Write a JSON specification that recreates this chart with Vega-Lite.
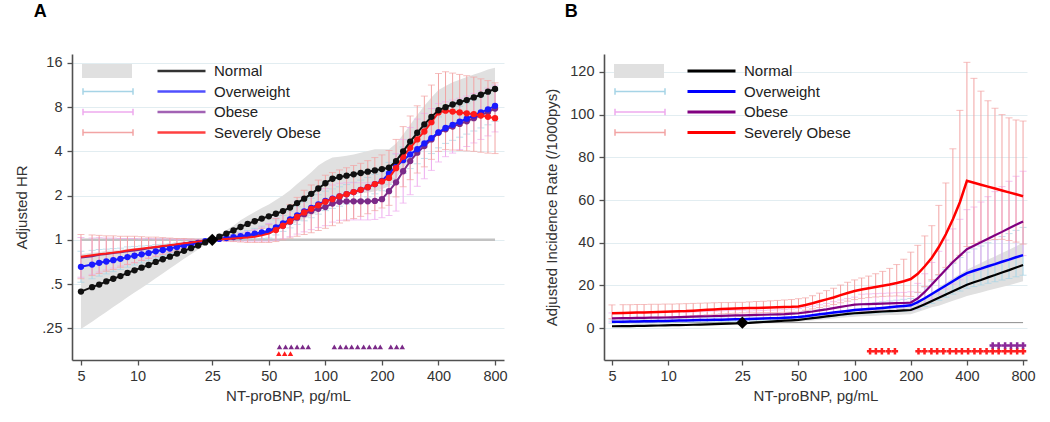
{
"$schema": "https://vega.github.io/schema/vega-lite/v6.json",
"background": "#ffffff",
"padding": {"left": 14, "right": 0, "top": 3, "bottom": 0},
"config": {
  "font": "Liberation Sans",
  "view": {"stroke": null},
  "concat": {"spacing": 36},
  "axis": {"domainColor": "#505050", "domainWidth": 1.6, "tickColor": "#505050", "tickWidth": 1.3, "tickSize": 5,
           "labelFont": "Liberation Sans", "labelFontSize": 14.5, "labelColor": "#333333",
           "titleFont": "Liberation Sans", "titleFontSize": 15, "titleFontWeight": "normal", "titleColor": "#333333",
           "gridColor": "#e2edf1", "gridWidth": 1},
  "legend": {"labelFont": "Liberation Sans", "labelFontSize": 15, "labelColor": "#222222", "clipHeight": 20, "rowPadding": 0.5, "padding": 0},
  "title": {"anchor": "start", "font": "Liberation Sans", "fontSize": 18, "fontWeight": "bold", "color": "#000000", "offset": 33}
},
"datasets": {
"A": [
{"x":5,"n":0.444,"nl":0.247,"nh":0.801,"o":0.655,"ol":0.514,"oh":0.835,"b":0.758,"bl":0.555,"bh":1.035,"s":0.768,"sl":0.543,"sh":1.087},
{"x":5.73,"n":0.476,"nl":0.277,"nh":0.818,"o":0.678,"ol":0.543,"oh":0.847,"b":0.774,"bl":0.582,"bh":1.028,"s":0.785,"sl":0.571,"sh":1.079},
{"x":6.25,"n":0.496,"nl":0.299,"nh":0.824,"o":0.697,"ol":0.566,"oh":0.859,"b":0.790,"bl":0.603,"bh":1.035,"s":0.796,"sl":0.590,"sh":1.072},
{"x":6.82,"n":0.521,"nl":0.323,"nh":0.841,"o":0.712,"ol":0.586,"oh":0.864,"b":0.801,"bl":0.624,"bh":1.028,"s":0.806,"sl":0.611,"sh":1.064},
{"x":7.43,"n":0.543,"nl":0.349,"nh":0.847,"o":0.727,"ol":0.607,"oh":0.871,"b":0.812,"bl":0.642,"bh":1.028,"s":0.818,"sl":0.628,"sh":1.064},
{"x":8.11,"n":0.566,"nl":0.376,"nh":0.852,"o":0.742,"ol":0.628,"oh":0.877,"b":0.824,"bl":0.665,"bh":1.021,"s":0.830,"sl":0.651,"sh":1.057},
{"x":8.84,"n":0.595,"nl":0.406,"nh":0.871,"o":0.763,"ol":0.651,"oh":0.895,"b":0.835,"bl":0.683,"bh":1.021,"s":0.847,"sl":0.678,"sh":1.057},
{"x":9.64,"n":0.620,"nl":0.438,"nh":0.877,"o":0.779,"ol":0.674,"oh":0.901,"b":0.847,"bl":0.702,"bh":1.021,"s":0.859,"sl":0.697,"sh":1.057},
{"x":10.51,"n":0.646,"nl":0.470,"nh":0.889,"o":0.796,"ol":0.697,"oh":0.908,"b":0.859,"bl":0.727,"bh":1.014,"s":0.871,"sl":0.722,"sh":1.050},
{"x":11.46,"n":0.674,"nl":0.507,"nh":0.895,"o":0.812,"ol":0.722,"oh":0.914,"b":0.877,"bl":0.753,"bh":1.021,"s":0.883,"sl":0.747,"sh":1.043},
{"x":12.5,"n":0.707,"nl":0.547,"nh":0.914,"o":0.835,"ol":0.753,"oh":0.927,"b":0.889,"bl":0.779,"bh":1.014,"s":0.895,"sl":0.768,"sh":1.043},
{"x":13.63,"n":0.737,"nl":0.590,"nh":0.920,"o":0.852,"ol":0.779,"oh":0.933,"b":0.901,"bl":0.801,"bh":1.014,"s":0.908,"sl":0.796,"sh":1.035},
{"x":14.87,"n":0.768,"nl":0.637,"nh":0.927,"o":0.871,"ol":0.806,"oh":0.940,"b":0.914,"bl":0.824,"bh":1.014,"s":0.920,"sl":0.824,"sh":1.028},
{"x":16.21,"n":0.806,"nl":0.688,"nh":0.946,"o":0.895,"ol":0.841,"oh":0.953,"b":0.927,"bl":0.852,"bh":1.007,"s":0.933,"sl":0.852,"sh":1.021},
{"x":17.68,"n":0.841,"nl":0.742,"nh":0.953,"o":0.914,"ol":0.864,"oh":0.966,"b":0.940,"bl":0.877,"bh":1.007,"s":0.946,"sl":0.877,"sh":1.021},
{"x":19.28,"n":0.877,"nl":0.796,"nh":0.966,"o":0.933,"ol":0.895,"oh":0.973,"b":0.959,"bl":0.914,"bh":1.007,"s":0.959,"sl":0.908,"sh":1.014},
{"x":21.02,"n":0.914,"nl":0.859,"nh":0.973,"o":0.953,"ol":0.927,"oh":0.979,"b":0.973,"bl":0.940,"bh":1.007,"s":0.973,"sl":0.940,"sh":1.007},
{"x":22.93,"n":0.960,"nl":0.927,"nh":0.993,"o":0.979,"ol":0.966,"oh":0.993,"b":0.986,"bl":0.973,"bh":1.000,"s":0.986,"sl":0.966,"sh":1.007},
{"x":25,"n":1,"nl":1,"nh":1,"o":1,"ol":1,"oh":1,"b":1,"bl":1,"bh":1,"s":1,"sl":1,"sh":1},
{"x":27.26,"n":1.050,"nl":1.021,"nh":1.079,"o":1.014,"ol":1.000,"oh":1.028,"b":1.007,"bl":0.986,"bh":1.028,"s":1.007,"sl":0.986,"sh":1.028},
{"x":29.73,"n":1.102,"nl":1.043,"nh":1.165,"o":1.028,"ol":1.000,"oh":1.057,"b":1.014,"bl":0.979,"bh":1.050,"s":1.014,"sl":0.979,"sh":1.050},
{"x":32.42,"n":1.157,"nl":1.072,"nh":1.248,"o":1.043,"ol":1.000,"oh":1.087,"b":1.028,"bl":0.979,"bh":1.079,"s":1.021,"sl":0.973,"sh":1.072},
{"x":35.36,"n":1.223,"nl":1.102,"nh":1.357,"o":1.057,"ol":1.000,"oh":1.117,"b":1.043,"bl":0.979,"bh":1.110,"s":1.028,"sl":0.966,"sh":1.094},
{"x":38.56,"n":1.283,"nl":1.133,"nh":1.454,"o":1.079,"ol":1.007,"oh":1.157,"b":1.057,"bl":0.979,"bh":1.141,"s":1.035,"sl":0.959,"sh":1.117},
{"x":42.04,"n":1.338,"nl":1.157,"nh":1.548,"o":1.102,"ol":1.014,"oh":1.197,"b":1.072,"bl":0.979,"bh":1.173,"s":1.050,"sl":0.959,"sh":1.149},
{"x":45.85,"n":1.395,"nl":1.181,"nh":1.647,"o":1.125,"ol":1.021,"oh":1.240,"b":1.094,"bl":0.979,"bh":1.223,"s":1.072,"sl":0.959,"sh":1.197},
{"x":50,"n":1.444,"nl":1.197,"nh":1.741,"o":1.149,"ol":1.028,"oh":1.283,"b":1.125,"bl":0.979,"bh":1.292,"s":1.102,"sl":0.959,"sh":1.266},
{"x":54.53,"n":1.505,"nl":1.214,"nh":1.866,"o":1.214,"ol":1.079,"oh":1.366,"b":1.181,"bl":0.993,"bh":1.404,"s":1.165,"sl":0.973,"sh":1.395},
{"x":59.46,"n":1.569,"nl":1.231,"nh":2.000,"o":1.292,"ol":1.141,"oh":1.464,"b":1.248,"bl":1.014,"bh":1.537,"s":1.248,"sl":1.000,"sh":1.558},
{"x":64.84,"n":1.659,"nl":1.266,"nh":2.173,"o":1.376,"ol":1.206,"oh":1.569,"b":1.329,"bl":1.050,"bh":1.682,"s":1.338,"sl":1.028,"sh":1.741},
{"x":70.71,"n":1.778,"nl":1.320,"nh":2.395,"o":1.464,"ol":1.274,"oh":1.682,"b":1.414,"bl":1.094,"bh":1.828,"s":1.434,"sl":1.057,"sh":1.945},
{"x":77.11,"n":1.905,"nl":1.385,"nh":2.621,"o":1.558,"ol":1.347,"oh":1.803,"b":1.495,"bl":1.133,"bh":1.972,"s":1.537,"sl":1.087,"sh":2.173},
{"x":84.09,"n":2.056,"nl":1.464,"nh":2.888,"o":1.647,"ol":1.414,"oh":1.919,"b":1.569,"bl":1.173,"bh":2.099,"s":1.625,"sl":1.117,"sh":2.362},
{"x":91.7,"n":2.235,"nl":1.558,"nh":3.204,"o":1.741,"ol":1.495,"oh":2.028,"b":1.625,"bl":1.214,"bh":2.173,"s":1.717,"sl":1.157,"sh":2.549},
{"x":100,"n":2.428,"nl":1.717,"nh":3.434,"o":1.840,"ol":1.580,"oh":2.144,"b":1.670,"bl":1.248,"bh":2.235,"s":1.815,"sl":1.197,"sh":2.751},
{"x":109.05,"n":2.603,"nl":1.866,"nh":3.630,"o":1.905,"ol":1.636,"oh":2.219,"b":1.766,"bl":1.320,"bh":2.362,"s":1.892,"sl":1.248,"sh":2.868},
{"x":118.92,"n":2.676,"nl":1.945,"nh":3.681,"o":1.972,"ol":1.693,"oh":2.297,"b":1.815,"bl":1.357,"bh":2.428,"s":1.972,"sl":1.301,"sh":2.990},
{"x":129.68,"n":2.732,"nl":2.000,"nh":3.732,"o":2.042,"ol":1.753,"oh":2.378,"b":1.828,"bl":1.366,"bh":2.445,"s":2.042,"sl":1.347,"sh":3.095},
{"x":141.42,"n":2.790,"nl":2.042,"nh":3.811,"o":2.114,"ol":1.815,"oh":2.462,"b":1.828,"bl":1.366,"bh":2.445,"s":2.114,"sl":1.395,"sh":3.204},
{"x":154.22,"n":2.848,"nl":2.071,"nh":3.918,"o":2.189,"ol":1.879,"oh":2.549,"b":1.828,"bl":1.366,"bh":2.445,"s":2.189,"sl":1.444,"sh":3.317},
{"x":168.18,"n":2.908,"nl":2.099,"nh":4.028,"o":2.282,"ol":1.959,"oh":2.657,"b":1.828,"bl":1.366,"bh":2.445,"s":2.282,"sl":1.505,"sh":3.458},
{"x":183.4,"n":2.969,"nl":2.129,"nh":4.141,"o":2.395,"ol":2.056,"oh":2.790,"b":1.840,"bl":1.376,"bh":2.462,"s":2.395,"sl":1.580,"sh":3.630},
{"x":200,"n":3.031,"nl":2.219,"nh":4.141,"o":2.514,"ol":2.159,"oh":2.928,"b":1.892,"bl":1.414,"bh":2.532,"s":2.497,"sl":1.647,"sh":3.784},
{"x":218.1,"n":3.095,"nl":2.313,"nh":4.141,"o":2.828,"ol":2.378,"oh":3.364,"b":2.144,"bl":1.464,"bh":3.138,"s":2.639,"sl":1.717,"sh":4.056},
{"x":237.8,"n":3.434,"nl":2.603,"nh":4.532,"o":3.160,"ol":2.603,"oh":3.837,"b":2.462,"bl":1.569,"bh":3.864,"s":3.074,"sl":1.959,"sh":4.823},
{"x":259.4,"n":4.000,"nl":3.074,"nh":5.205,"o":3.482,"ol":2.828,"oh":4.287,"b":2.928,"bl":1.778,"bh":4.823,"s":3.681,"sl":2.297,"sh":5.897},
{"x":282.8,"n":4.660,"nl":3.580,"nh":6.063,"o":3.811,"ol":3.053,"oh":4.757,"b":3.434,"bl":2.028,"bh":5.816,"s":4.228,"sl":2.567,"sh":6.964},
{"x":308.4,"n":5.352,"nl":4.056,"nh":7.062,"o":4.141,"ol":3.294,"oh":5.205,"b":3.918,"bl":2.313,"bh":6.635,"s":4.823,"sl":2.848,"sh":8.168},
{"x":336.4,"n":6.105,"nl":4.563,"nh":8.168,"o":4.532,"ol":3.580,"oh":5.736,"b":4.347,"bl":2.603,"bh":7.261,"s":5.464,"sl":3.138,"sh":9.514},
{"x":366.8,"n":6.869,"nl":5.063,"nh":9.318,"o":4.925,"ol":3.864,"oh":6.276,"b":4.823,"bl":2.969,"bh":7.835,"s":6.320,"sl":3.531,"sh":11.31},
{"x":400,"n":7.621,"nl":5.541,"nh":10.48,"o":5.389,"ol":4.228,"oh":6.869,"b":5.352,"bl":3.387,"bh":8.456,"s":7.362,"sl":4.000,"sh":13.55},
{"x":436.2,"n":8.000,"nl":5.736,"nh":11.16,"o":5.776,"ol":4.532,"oh":7.362,"b":5.657,"bl":3.681,"bh":8.694,"s":7.568,"sl":4.112,"sh":13.93},
{"x":475.7,"n":8.340,"nl":5.897,"nh":11.80,"o":6.063,"ol":4.757,"oh":7.727,"b":5.897,"bl":3.891,"bh":8.938,"s":7.464,"sl":4.084,"sh":13.64},
{"x":518.7,"n":8.634,"nl":6.063,"nh":12.30,"o":6.364,"ol":4.993,"oh":8.111,"b":6.148,"bl":4.112,"bh":9.190,"s":7.362,"sl":4.056,"sh":13.36},
{"x":565.7,"n":8.938,"nl":6.233,"nh":12.82,"o":6.681,"ol":5.242,"oh":8.514,"b":6.408,"bl":4.317,"bh":9.514,"s":7.261,"sl":4.028,"sh":13.09},
{"x":616.9,"n":9.318,"nl":6.498,"nh":13.36,"o":7.013,"ol":5.502,"oh":8.938,"b":6.727,"bl":4.563,"bh":9.918,"s":7.161,"sl":4.000,"sh":12.82},
{"x":672.7,"n":9.714,"nl":6.821,"nh":13.83,"o":7.362,"ol":5.776,"oh":9.383,"b":7.062,"bl":4.823,"bh":10.34,"s":7.013,"sl":3.945,"sh":12.47},
{"x":733.6,"n":10.20,"nl":7.211,"nh":14.42,"o":7.727,"ol":6.063,"oh":9.849,"b":7.412,"bl":5.098,"bh":10.78,"s":6.869,"sl":3.891,"sh":12.13},
{"x":800,"n":10.63,"nl":7.621,"nh":14.83,"o":8.168,"ol":6.408,"oh":10.41,"b":7.835,"bl":5.426,"bh":11.31,"s":6.727,"sl":3.864,"sh":11.71}
],
"B": [
{"x":5,"n":0.9,"nl":0.69,"nh":1.17,"o":3.0,"ol":2.31,"oh":3.9,"b":4.6,"bl":2.97,"bh":7.13,"s":7.0,"sl":4.5,"sh":10.9},
{"x":5.73,"n":0.95,"nl":0.73,"nh":1.24,"o":3.05,"ol":2.35,"oh":3.97,"b":4.7,"bl":3.03,"bh":7.29,"s":7.1,"sl":4.58,"sh":11.0},
{"x":6.25,"n":1.0,"nl":0.77,"nh":1.3,"o":3.1,"ol":2.38,"oh":4.03,"b":4.7,"bl":3.03,"bh":7.29,"s":7.2,"sl":4.71,"sh":11.0},
{"x":6.82,"n":1.05,"nl":0.81,"nh":1.37,"o":3.15,"ol":2.42,"oh":4.1,"b":4.8,"bl":3.1,"bh":7.44,"s":7.3,"sl":4.8,"sh":11.1},
{"x":7.43,"n":1.1,"nl":0.85,"nh":1.43,"o":3.2,"ol":2.46,"oh":4.16,"b":4.8,"bl":3.1,"bh":7.44,"s":7.4,"sl":4.93,"sh":11.1},
{"x":8.11,"n":1.2,"nl":0.92,"nh":1.56,"o":3.3,"ol":2.54,"oh":4.29,"b":4.9,"bl":3.16,"bh":7.6,"s":7.5,"sl":5.02,"sh":11.2},
{"x":8.84,"n":1.25,"nl":0.96,"nh":1.63,"o":3.35,"ol":2.58,"oh":4.36,"b":4.9,"bl":3.16,"bh":7.6,"s":7.6,"sl":5.16,"sh":11.2},
{"x":9.64,"n":1.3,"nl":1.0,"nh":1.69,"o":3.4,"ol":2.62,"oh":4.42,"b":5.0,"bl":3.23,"bh":7.75,"s":7.7,"sl":5.25,"sh":11.3},
{"x":10.51,"n":1.4,"nl":1.08,"nh":1.82,"o":3.5,"ol":2.69,"oh":4.55,"b":5.1,"bl":3.29,"bh":7.91,"s":7.8,"sl":5.38,"sh":11.3},
{"x":11.46,"n":1.45,"nl":1.12,"nh":1.89,"o":3.55,"ol":2.73,"oh":4.62,"b":5.2,"bl":3.35,"bh":8.06,"s":7.9,"sl":5.47,"sh":11.4},
{"x":12.5,"n":1.5,"nl":1.15,"nh":1.95,"o":3.6,"ol":2.77,"oh":4.68,"b":5.3,"bl":3.79,"bh":7.42,"s":8.0,"sl":5.57,"sh":11.5},
{"x":13.63,"n":1.6,"nl":1.23,"nh":2.08,"o":3.7,"ol":2.85,"oh":4.81,"b":5.4,"bl":3.86,"bh":7.56,"s":8.2,"sl":5.8,"sh":11.6},
{"x":14.87,"n":1.7,"nl":1.31,"nh":2.21,"o":3.8,"ol":2.92,"oh":4.94,"b":5.5,"bl":3.93,"bh":7.7,"s":8.4,"sl":6.03,"sh":11.7},
{"x":16.21,"n":1.8,"nl":1.38,"nh":2.34,"o":3.85,"ol":2.96,"oh":5.0,"b":5.6,"bl":4.0,"bh":7.84,"s":8.6,"sl":6.27,"sh":11.8},
{"x":17.68,"n":1.9,"nl":1.46,"nh":2.47,"o":3.9,"ol":3.0,"oh":5.07,"b":5.7,"bl":4.07,"bh":7.98,"s":8.8,"sl":6.51,"sh":11.9},
{"x":19.28,"n":2.0,"nl":1.54,"nh":2.6,"o":4.0,"ol":3.08,"oh":5.2,"b":5.8,"bl":4.14,"bh":8.12,"s":9.0,"sl":6.75,"sh":12.0},
{"x":21.02,"n":2.1,"nl":1.62,"nh":2.73,"o":4.1,"ol":3.15,"oh":5.33,"b":5.9,"bl":4.21,"bh":8.26,"s":9.1,"sl":6.9,"sh":12.0},
{"x":22.93,"n":2.2,"nl":1.69,"nh":2.86,"o":4.15,"ol":3.19,"oh":5.4,"b":6.0,"bl":4.29,"bh":8.4,"s":9.2,"sl":7.0,"sh":12.1},
{"x":25,"n":2.4,"nl":1.85,"nh":3.12,"o":4.2,"ol":3.23,"oh":5.46,"b":6.0,"bl":4.29,"bh":8.4,"s":9.3,"sl":7.15,"sh":12.1},
{"x":27.26,"n":2.5,"nl":1.92,"nh":3.25,"o":4.3,"ol":3.31,"oh":5.59,"b":6.1,"bl":4.62,"bh":8.05,"s":9.4,"sl":7.18,"sh":12.3},
{"x":29.73,"n":2.7,"nl":2.08,"nh":3.51,"o":4.4,"ol":3.38,"oh":5.72,"b":6.2,"bl":4.7,"bh":8.18,"s":9.5,"sl":7.22,"sh":12.5},
{"x":32.42,"n":2.9,"nl":2.23,"nh":3.77,"o":4.5,"ol":3.46,"oh":5.85,"b":6.3,"bl":4.78,"bh":8.32,"s":9.6,"sl":7.31,"sh":12.6},
{"x":35.36,"n":3.1,"nl":2.38,"nh":4.03,"o":4.6,"ol":3.54,"oh":5.98,"b":6.4,"bl":4.85,"bh":8.45,"s":9.7,"sl":7.35,"sh":12.8},
{"x":38.56,"n":3.3,"nl":2.54,"nh":4.29,"o":4.7,"ol":3.62,"oh":6.11,"b":6.5,"bl":4.93,"bh":8.58,"s":9.8,"sl":7.39,"sh":13.0},
{"x":42.04,"n":3.5,"nl":2.69,"nh":4.55,"o":4.85,"ol":3.73,"oh":6.31,"b":6.6,"bl":5.0,"bh":8.71,"s":9.9,"sl":7.43,"sh":13.2},
{"x":45.85,"n":3.7,"nl":2.85,"nh":4.81,"o":5.0,"ol":3.85,"oh":6.5,"b":6.8,"bl":5.15,"bh":8.98,"s":10.0,"sl":7.46,"sh":13.4},
{"x":50,"n":3.9,"nl":3.0,"nh":5.07,"o":5.2,"ol":4.0,"oh":6.76,"b":7.0,"bl":5.31,"bh":9.24,"s":10.2,"sl":7.54,"sh":13.8},
{"x":54.53,"n":4.3,"nl":3.31,"nh":5.59,"o":5.6,"ol":4.31,"oh":7.28,"b":7.4,"bl":5.61,"bh":9.77,"s":10.9,"sl":8.37,"sh":14.2},
{"x":59.46,"n":4.7,"nl":3.62,"nh":6.11,"o":6.1,"ol":4.69,"oh":7.93,"b":7.8,"bl":5.91,"bh":10.3,"s":11.7,"sl":9.01,"sh":15.2},
{"x":64.84,"n":5.1,"nl":3.92,"nh":6.63,"o":6.5,"ol":5.0,"oh":8.45,"b":8.3,"bl":6.29,"bh":10.96,"s":12.6,"sl":9.68,"sh":16.4},
{"x":70.71,"n":5.5,"nl":4.23,"nh":7.15,"o":6.9,"ol":5.31,"oh":8.97,"b":8.8,"bl":6.67,"bh":11.62,"s":13.5,"sl":10.36,"sh":17.6},
{"x":77.11,"n":5.9,"nl":4.54,"nh":7.67,"o":7.3,"ol":5.62,"oh":9.49,"b":9.4,"bl":7.12,"bh":12.41,"s":14.4,"sl":11.09,"sh":18.7},
{"x":84.09,"n":6.3,"nl":4.85,"nh":8.19,"o":7.7,"ol":5.92,"oh":10.01,"b":10.0,"bl":7.58,"bh":13.2,"s":15.5,"sl":11.89,"sh":20.2},
{"x":91.7,"n":6.7,"nl":5.15,"nh":8.71,"o":8.1,"ol":6.23,"oh":10.53,"b":10.5,"bl":7.95,"bh":13.86,"s":16.5,"sl":12.66,"sh":21.5},
{"x":100,"n":7.0,"nl":5.38,"nh":9.1,"o":8.5,"ol":6.54,"oh":11.05,"b":11.0,"bl":8.33,"bh":14.52,"s":17.4,"sl":13.4,"sh":22.6},
{"x":109.05,"n":7.2,"nl":5.54,"nh":9.36,"o":8.8,"ol":6.77,"oh":11.44,"b":11.2,"bl":7.89,"bh":15.9,"s":18.1,"sl":13.94,"sh":23.5},
{"x":118.92,"n":7.4,"nl":5.69,"nh":9.62,"o":9.0,"ol":6.92,"oh":11.7,"b":11.3,"bl":7.96,"bh":16.05,"s":18.7,"sl":14.33,"sh":24.4},
{"x":129.68,"n":7.6,"nl":5.85,"nh":9.88,"o":9.2,"ol":7.08,"oh":11.96,"b":11.4,"bl":8.03,"bh":16.19,"s":19.3,"sl":14.61,"sh":25.5},
{"x":141.42,"n":7.8,"nl":6.0,"nh":10.14,"o":9.5,"ol":7.31,"oh":12.35,"b":11.5,"bl":8.1,"bh":16.33,"s":19.9,"sl":14.89,"sh":26.6},
{"x":154.22,"n":8.0,"nl":6.15,"nh":10.4,"o":9.8,"ol":7.54,"oh":12.74,"b":11.6,"bl":8.17,"bh":16.47,"s":20.5,"sl":15.01,"sh":28.0},
{"x":168.18,"n":8.1,"nl":6.23,"nh":10.53,"o":10.1,"ol":7.77,"oh":13.13,"b":11.7,"bl":8.24,"bh":16.61,"s":21.2,"sl":15.08,"sh":29.8},
{"x":183.4,"n":8.3,"nl":6.38,"nh":10.79,"o":10.4,"ol":8.0,"oh":13.52,"b":11.8,"bl":8.31,"bh":16.76,"s":22.0,"sl":14.98,"sh":32.3},
{"x":200,"n":8.5,"nl":6.54,"nh":11.05,"o":10.7,"ol":8.23,"oh":13.91,"b":12.0,"bl":8.45,"bh":17.04,"s":23.0,"sl":14.86,"sh":35.6},
{"x":218.1,"n":9.8,"nl":7.54,"nh":12.74,"o":12.2,"ol":8.84,"oh":16.84,"b":14.0,"bl":9.33,"bh":21.0,"s":25.5,"sl":16.76,"sh":38.8},
{"x":237.8,"n":11.2,"nl":8.62,"nh":14.56,"o":14.0,"ol":10.15,"oh":19.32,"b":17.0,"bl":11.33,"bh":25.5,"s":29.0,"sl":19.47,"sh":43.2},
{"x":259.4,"n":12.7,"nl":9.77,"nh":16.51,"o":16.0,"ol":11.6,"oh":22.08,"b":20.5,"bl":13.67,"bh":30.75,"s":33.0,"sl":22.69,"sh":48.0},
{"x":282.8,"n":14.2,"nl":10.52,"nh":19.17,"o":18.0,"ol":13.05,"oh":24.84,"b":24.0,"bl":16.0,"bh":36.0,"s":38.0,"sl":25.11,"sh":57.5},
{"x":308.4,"n":15.8,"nl":11.7,"nh":21.33,"o":20.0,"ol":14.5,"oh":27.6,"b":27.5,"bl":18.33,"bh":41.25,"s":44.0,"sl":28.47,"sh":68.0},
{"x":336.4,"n":17.3,"nl":12.81,"nh":23.36,"o":22.0,"ol":15.95,"oh":30.36,"b":31.0,"bl":20.67,"bh":46.5,"s":51.0,"sl":30.96,"sh":84.0},
{"x":366.8,"n":18.8,"nl":13.93,"nh":25.38,"o":24.0,"ol":17.4,"oh":33.12,"b":34.0,"bl":22.67,"bh":51.0,"s":59.0,"sl":34.13,"sh":102.0},
{"x":400,"n":20.3,"nl":15.04,"nh":27.41,"o":25.8,"ol":18.7,"oh":35.6,"b":37.0,"bl":24.67,"bh":55.5,"s":69.0,"sl":38.24,"sh":124.5},
{"x":436.2,"n":21.5,"nl":15.93,"nh":29.03,"o":26.9,"ol":19.5,"oh":37.12,"b":38.6,"bl":26.26,"bh":56.74,"s":68.1,"sl":39.64,"sh":117.0},
{"x":475.7,"n":22.6,"nl":16.74,"nh":30.51,"o":27.9,"ol":20.23,"oh":38.5,"b":40.2,"bl":27.35,"bh":59.09,"s":67.2,"sl":40.68,"sh":111.0},
{"x":518.7,"n":23.8,"nl":17.63,"nh":32.13,"o":29.0,"ol":21.03,"oh":40.02,"b":41.9,"bl":28.5,"bh":61.59,"s":66.3,"sl":41.27,"sh":106.5},
{"x":565.7,"n":24.9,"nl":18.44,"nh":33.62,"o":30.0,"ol":21.75,"oh":41.4,"b":43.5,"bl":29.59,"bh":63.95,"s":65.4,"sl":41.53,"sh":103.0},
{"x":616.9,"n":26.1,"nl":19.33,"nh":35.24,"o":31.1,"ol":22.55,"oh":42.92,"b":45.1,"bl":30.68,"bh":66.3,"s":64.5,"sl":41.6,"sh":100.0},
{"x":672.7,"n":27.2,"nl":20.15,"nh":36.72,"o":32.1,"ol":23.27,"oh":44.3,"b":46.8,"bl":31.84,"bh":68.8,"s":63.6,"sl":41.07,"sh":98.5},
{"x":733.6,"n":28.4,"nl":21.04,"nh":38.34,"o":33.2,"ol":24.07,"oh":45.82,"b":48.4,"bl":32.93,"bh":71.15,"s":62.7,"sl":40.32,"sh":97.5},
{"x":800,"n":29.6,"nl":21.93,"nh":39.96,"o":34.2,"ol":24.8,"oh":47.2,"b":50.0,"bl":34.01,"bh":73.5,"s":61.8,"sl":39.37,"sh":97.0}
],
"sigA": [
{"x":57,"g":"Obese"},{"x":61.4,"g":"Obese"},{"x":65.8,"g":"Obese"},{"x":70.7,"g":"Obese"},{"x":75.7,"g":"Obese"},{"x":81.1,"g":"Obese"},
{"x":111.6,"g":"Obese"},{"x":120.1,"g":"Obese"},{"x":128.8,"g":"Obese"},{"x":138,"g":"Obese"},{"x":148.5,"g":"Obese"},{"x":159.8,"g":"Obese"},{"x":171.3,"g":"Obese"},{"x":184.3,"g":"Obese"},{"x":196,"g":"Obese"},
{"x":223,"g":"Obese"},{"x":239.5,"g":"Obese"},{"x":256.6,"g":"Obese"},
{"x":56.5,"g":"Severely Obese"},{"x":60.7,"g":"Severely Obese"},{"x":65.2,"g":"Severely Obese"}
],
"sigB": [
{"x":121,"g":"Severely Obese"},{"x":130,"g":"Severely Obese"},{"x":140,"g":"Severely Obese"},{"x":152,"g":"Severely Obese"},{"x":164.5,"g":"Severely Obese"},
{"x":220,"g":"Severely Obese"},{"x":237,"g":"Severely Obese"},{"x":258,"g":"Severely Obese"},{"x":277,"g":"Severely Obese"},{"x":299,"g":"Severely Obese"},{"x":324,"g":"Severely Obese"},{"x":350,"g":"Severely Obese"},{"x":376,"g":"Severely Obese"},{"x":406,"g":"Severely Obese"},{"x":439,"g":"Severely Obese"},{"x":472,"g":"Severely Obese"},{"x":510,"g":"Severely Obese"},{"x":550,"g":"Severely Obese"},{"x":592,"g":"Severely Obese"},{"x":641,"g":"Severely Obese"},{"x":689,"g":"Severely Obese"},{"x":744,"g":"Severely Obese"},{"x":800,"g":"Severely Obese"},
{"x":550,"g":"Obese"},{"x":592,"g":"Obese"},{"x":641,"g":"Obese"},{"x":689,"g":"Obese"},{"x":744,"g":"Obese"},{"x":800,"g":"Obese"}
]
},
"resolve": {"scale": {"color": "independent", "fill": "independent", "stroke": "independent"}, "legend": {"color": "independent", "fill": "independent", "stroke": "independent"}},
"hconcat": [
{
  "width": 432, "height": 306,
  "title": {"text": "A", "dx": 19},
  "data": {"name": "A"},
  "layer": [
    {"mark": {"type": "area", "color": "#e0e0e0"},
     "encoding": {
       "x": {"field": "x", "type": "quantitative", "scale": {"type": "log", "domain": [4.48, 893], "nice": false},
             "axis": {"values": [5,10,25,50,100,200,400,800], "format": "d", "title": "NT-proBNP, pg/mL", "grid": false, "labelFlush": false, "labelPadding": 4, "titlePadding": 6}},
       "y": {"field": "nl", "type": "quantitative", "title": "Adjusted HR", "scale": {"type": "log", "base": 2, "domain": [0.152, 18.4], "nice": false},
             "axis": {"values": [0.25,0.5,1,2,4,8,16], "labelExpr": "datum.value == 0.5 ? '.5' : (datum.value == 0.25 ? '.25' : format(datum.value, 'd'))", "grid": true, "labelPadding": 5, "titlePadding": 12}},
       "y2": {"field": "nh"}}},
    {"data": {"values": [{}]}, "mark": {"type": "rule", "color": "#c2c2c2", "strokeWidth": 2.5},
     "encoding": {"x": {"datum": 5}, "x2": {"datum": 800}, "y": {"datum": 1, "title": "Adjusted HR"}}},
    {"mark": {"type": "errorbar", "color": "#a6d4e6", "thickness": 1, "ticks": {"size": 7}},
     "encoding": {"x": {"field": "x", "type": "quantitative"}, "y": {"field": "ol", "type": "quantitative", "title": "Adjusted HR"}, "y2": {"field": "oh"}}},
    {"mark": {"type": "errorbar", "color": "#eeaaee", "thickness": 1, "ticks": {"size": 7}},
     "encoding": {"x": {"field": "x", "type": "quantitative"}, "y": {"field": "bl", "type": "quantitative", "title": "Adjusted HR"}, "y2": {"field": "bh"}}},
    {"mark": {"type": "errorbar", "color": "#f2a4a4", "thickness": 1, "ticks": {"size": 7}},
     "encoding": {"x": {"field": "x", "type": "quantitative"}, "y": {"field": "sl", "type": "quantitative", "title": "Adjusted HR"}, "y2": {"field": "sh"}}},
    {"mark": {"type": "line", "color": "#7b2a88", "strokeWidth": 2},
     "encoding": {"x": {"field": "x", "type": "quantitative"}, "y": {"field": "b", "type": "quantitative", "title": "Adjusted HR"}}},
    {"transform": [{"filter": {"field": "x", "gte": 54}}],
     "mark": {"type": "point", "filled": true, "color": "#7b2a88", "size": 40, "opacity": 1},
     "encoding": {"x": {"field": "x", "type": "quantitative"}, "y": {"field": "b", "type": "quantitative", "title": "Adjusted HR"}}},
    {"mark": {"type": "line", "color": "#1a1aff", "strokeWidth": 2},
     "encoding": {"x": {"field": "x", "type": "quantitative"}, "y": {"field": "o", "type": "quantitative", "title": "Adjusted HR"}}},
    {"mark": {"type": "point", "filled": true, "color": "#1a1aff", "size": 40, "opacity": 1},
     "encoding": {"x": {"field": "x", "type": "quantitative"}, "y": {"field": "o", "type": "quantitative", "title": "Adjusted HR"}}},
    {"mark": {"type": "line", "color": "#ff1a1a", "strokeWidth": 2},
     "encoding": {"x": {"field": "x", "type": "quantitative"}, "y": {"field": "s", "type": "quantitative", "title": "Adjusted HR"}}},
    {"transform": [{"filter": {"field": "x", "gte": 54}}],
     "mark": {"type": "point", "filled": true, "color": "#ff1a1a", "size": 40, "opacity": 1},
     "encoding": {"x": {"field": "x", "type": "quantitative"}, "y": {"field": "s", "type": "quantitative", "title": "Adjusted HR"}}},
    {"mark": {"type": "line", "color": "#111111", "strokeWidth": 2},
     "encoding": {"x": {"field": "x", "type": "quantitative"}, "y": {"field": "n", "type": "quantitative", "title": "Adjusted HR"}}},
    {"mark": {"type": "point", "filled": true, "color": "#111111", "size": 40, "opacity": 1},
     "encoding": {"x": {"field": "x", "type": "quantitative"}, "y": {"field": "n", "type": "quantitative", "title": "Adjusted HR"}}},
    {"data": {"values": [{}]}, "mark": {"type": "point", "shape": "diamond", "filled": true, "color": "#000000", "size": 150, "opacity": 1},
     "encoding": {"x": {"datum": 25}, "y": {"datum": 1, "title": "Adjusted HR"}}},
    {"data": {"name": "sigA"}, "transform": [{"filter": "datum.g == 'Obese'"}],
     "mark": {"type": "point", "shape": "triangle-up", "filled": true, "color": "#7b2a88", "size": 30, "opacity": 1},
     "encoding": {"x": {"field": "x", "type": "quantitative"}, "y": {"datum": 0.187, "title": "Adjusted HR"}}},
    {"data": {"name": "sigA"}, "transform": [{"filter": "datum.g == 'Severely Obese'"}],
     "mark": {"type": "point", "shape": "triangle-up", "filled": true, "color": "#ff1a1a", "size": 30, "opacity": 1},
     "encoding": {"x": {"field": "x", "type": "quantitative"}, "y": {"datum": 0.168, "title": "Adjusted HR"}}},
    {"data": {"values": []}, "mark": {"type": "point", "filled": true},
     "encoding": {"fill": {"field": "ci", "type": "nominal",
        "scale": {"domain": ["Normal CI"], "range": ["#e0e0e0"]},
        "legend": {"orient": "none", "legendX": 10, "legendY": 7, "title": null, "labelExpr": "''", "labelOffset": 0,
                   "symbolType": "M-1,-0.28H1V0.28H-1Z", "symbolSize": 2500, "symbolStrokeWidth": 0, "symbolOpacity": 1}}}},
    {"data": {"values": []}, "mark": {"type": "point", "filled": false},
     "encoding": {"stroke": {"field": "ci2", "type": "nominal",
        "scale": {"domain": ["Overweight CI","Obese CI","Severely Obese CI"], "range": ["#a6d4e6","#eeaaee","#f2a4a4"]},
        "legend": {"orient": "none", "legendX": 10, "legendY": 27.5, "title": null, "labelExpr": "''", "labelOffset": 0,
                   "symbolType": "M-1,0H1M-1,-0.13V0.13M1,-0.13V0.13", "symbolSize": 2500, "symbolStrokeWidth": 1.5, "symbolFillColor": "transparent", "symbolOpacity": 1}}}},
    {"data": {"values": []}, "mark": {"type": "line"},
     "encoding": {"color": {"field": "g", "type": "nominal",
        "scale": {"domain": ["Normal","Overweight","Obese","Severely Obese"], "range": ["#333333","#5050ff","#a262b4","#ff4040"]},
        "legend": {"orient": "none", "legendX": 84, "legendY": 7, "title": null, "symbolType": "stroke", "symbolSize": 2304, "symbolStrokeWidth": 2.5, "labelOffset": 7}}}}
  ]
},
{
  "width": 423, "height": 306,
  "title": {"text": "B", "dx": 20},
  "data": {"name": "B"},
  "layer": [
    {"mark": {"type": "area", "color": "#e0e0e0"},
     "encoding": {
       "x": {"field": "x", "type": "quantitative", "scale": {"type": "log", "domain": [4.53, 840], "nice": false},
             "axis": {"values": [5,10,25,50,100,200,400,800], "format": "d", "title": "NT-proBNP, pg/mL", "grid": false, "labelFlush": false, "labelPadding": 4, "titlePadding": 6}},
       "y": {"field": "nl", "type": "quantitative", "title": "Adjusted Incidence Rate (/1000pys)", "scale": {"domain": [-14.9, 128.4], "nice": false, "zero": false},
             "axis": {"values": [0,20,40,60,80,100,120], "grid": true, "labelPadding": 5, "titlePadding": 10}},
       "y2": {"field": "nh"}}},
    {"data": {"values": [{}]}, "mark": {"type": "rule", "color": "#8c8c8c", "strokeWidth": 1},
     "encoding": {"x": {"datum": 5}, "x2": {"datum": 800}, "y": {"datum": 2.6, "title": "Adjusted Incidence Rate (/1000pys)"}}},
    {"mark": {"type": "errorbar", "color": "#a6d4e6", "thickness": 1, "ticks": {"size": 7}},
     "encoding": {"x": {"field": "x", "type": "quantitative"}, "y": {"field": "ol", "type": "quantitative", "title": "Adjusted Incidence Rate (/1000pys)"}, "y2": {"field": "oh"}}},
    {"mark": {"type": "errorbar", "color": "#eeaaee", "thickness": 1, "ticks": {"size": 7}},
     "encoding": {"x": {"field": "x", "type": "quantitative"}, "y": {"field": "bl", "type": "quantitative", "title": "Adjusted Incidence Rate (/1000pys)"}, "y2": {"field": "bh"}}},
    {"mark": {"type": "errorbar", "color": "#f2a4a4", "thickness": 1, "ticks": {"size": 7}},
     "encoding": {"x": {"field": "x", "type": "quantitative"}, "y": {"field": "sl", "type": "quantitative", "title": "Adjusted Incidence Rate (/1000pys)"}, "y2": {"field": "sh"}}},
    {"mark": {"type": "line", "color": "#000000", "strokeWidth": 2.2},
     "encoding": {"x": {"field": "x", "type": "quantitative"}, "y": {"field": "n", "type": "quantitative", "title": "Adjusted Incidence Rate (/1000pys)"}}},
    {"mark": {"type": "line", "color": "#0000ff", "strokeWidth": 2.5},
     "encoding": {"x": {"field": "x", "type": "quantitative"}, "y": {"field": "o", "type": "quantitative", "title": "Adjusted Incidence Rate (/1000pys)"}}},
    {"mark": {"type": "line", "color": "#800080", "strokeWidth": 2.2},
     "encoding": {"x": {"field": "x", "type": "quantitative"}, "y": {"field": "b", "type": "quantitative", "title": "Adjusted Incidence Rate (/1000pys)"}}},
    {"mark": {"type": "line", "color": "#ff0000", "strokeWidth": 2.5},
     "encoding": {"x": {"field": "x", "type": "quantitative"}, "y": {"field": "s", "type": "quantitative", "title": "Adjusted Incidence Rate (/1000pys)"}}},
    {"data": {"values": [{}]}, "mark": {"type": "point", "shape": "diamond", "filled": true, "color": "#000000", "size": 150, "opacity": 1},
     "encoding": {"x": {"datum": 25}, "y": {"datum": 2.6, "title": "Adjusted Incidence Rate (/1000pys)"}}},
    {"data": {"name": "sigB"}, "transform": [{"filter": "datum.g == 'Severely Obese'"}],
     "mark": {"type": "point", "shape": "cross", "filled": true, "color": "#ff2020", "size": 40, "opacity": 1},
     "encoding": {"x": {"field": "x", "type": "quantitative"}, "y": {"datum": -10.8, "title": "Adjusted Incidence Rate (/1000pys)"}}},
    {"data": {"name": "sigB"}, "transform": [{"filter": "datum.g == 'Obese'"}],
     "mark": {"type": "point", "shape": "cross", "filled": true, "color": "#8a2a9a", "size": 40, "opacity": 1},
     "encoding": {"x": {"field": "x", "type": "quantitative"}, "y": {"datum": -8.1, "title": "Adjusted Incidence Rate (/1000pys)"}}},
    {"data": {"values": []}, "mark": {"type": "point", "filled": true},
     "encoding": {"fill": {"field": "ci", "type": "nominal",
        "scale": {"domain": ["Normal CI"], "range": ["#e0e0e0"]},
        "legend": {"orient": "none", "legendX": 10, "legendY": 7, "title": null, "labelExpr": "''", "labelOffset": 0,
                   "symbolType": "M-1,-0.28H1V0.28H-1Z", "symbolSize": 2500, "symbolStrokeWidth": 0, "symbolOpacity": 1}}}},
    {"data": {"values": []}, "mark": {"type": "point", "filled": false},
     "encoding": {"stroke": {"field": "ci2", "type": "nominal",
        "scale": {"domain": ["Overweight CI","Obese CI","Severely Obese CI"], "range": ["#a6d4e6","#eeaaee","#f2a4a4"]},
        "legend": {"orient": "none", "legendX": 10, "legendY": 27.5, "title": null, "labelExpr": "''", "labelOffset": 0,
                   "symbolType": "M-1,0H1M-1,-0.13V0.13M1,-0.13V0.13", "symbolSize": 2500, "symbolStrokeWidth": 1.5, "symbolFillColor": "transparent", "symbolOpacity": 1}}}},
    {"data": {"values": []}, "mark": {"type": "line"},
     "encoding": {"color": {"field": "g", "type": "nominal",
        "scale": {"domain": ["Normal","Overweight","Obese","Severely Obese"], "range": ["#000000","#0000ff","#800080","#ff0000"]},
        "legend": {"orient": "none", "legendX": 82, "legendY": 7, "title": null, "symbolType": "stroke", "symbolSize": 2304, "symbolStrokeWidth": 3, "labelOffset": 7}}}}
  ]
}
]
}
